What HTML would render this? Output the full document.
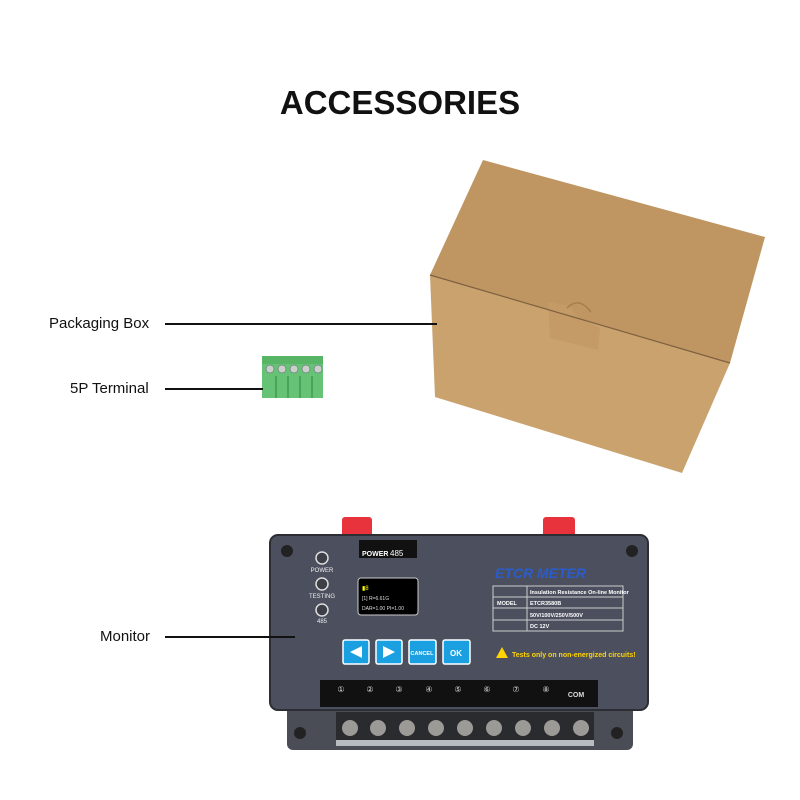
<!DOCTYPE html>
<html><head><style>
body{margin:0;width:800px;height:800px;background:#fff;position:relative;font-family:"Liberation Sans",sans-serif;overflow:hidden}
.a{position:absolute}
.lbl{position:absolute;font-size:15px;color:#111;white-space:nowrap}
.ln{position:absolute;height:2px;background:#111}
</style></head><body>
<div class="a" style="left:0;width:800px;top:84px;text-align:center;font-size:33px;font-weight:bold;color:#111">ACCESSORIES</div>

<svg class="a" style="left:0;top:0" width="800" height="800">
<polygon points="483,160 765,237 730,363 430,275" fill="#bf9662"/>
<polygon points="430,275 730,363 682,473 435,397" fill="#c9a26e"/>
<polygon points="548,302 570,306 578,318 600,328 598,350 550,338" fill="#c49b66"/>
<path d="M567,308 q12,-12 24,4" stroke="#a57e4e" fill="none" stroke-width="1.5"/>
<line x1="430" y1="275" x2="730" y2="363" stroke="#7f6040" stroke-width="1.2"/>
<rect x="262" y="356" width="61" height="42" fill="#66c274"/>
<rect x="262" y="356" width="61" height="8" fill="#58b566"/>
<g fill="#c8d0c8" stroke="#557" stroke-width="0.5">
<circle cx="270" cy="369" r="4"/><circle cx="282" cy="369" r="4"/><circle cx="294" cy="369" r="4"/><circle cx="306" cy="369" r="4"/><circle cx="318" cy="369" r="4"/></g>
<g stroke="#4aa55a" stroke-width="2"><line x1="276" y1="376" x2="276" y2="398"/><line x1="288" y1="376" x2="288" y2="398"/><line x1="300" y1="376" x2="300" y2="398"/><line x1="312" y1="376" x2="312" y2="398"/></g>

<rect x="342" y="517" width="30" height="20" fill="#e8323c" rx="3"/>
<rect x="543" y="517" width="32" height="20" fill="#e8323c" rx="3"/>
<rect x="287" y="706" width="346" height="44" rx="6" fill="#4a4d55"/>
<rect x="336" y="712" width="258" height="34" fill="#2a2b2e"/>
<g fill="#9c9a96"><circle cx="350" cy="728" r="8"/><circle cx="378" cy="728" r="8"/><circle cx="407" cy="728" r="8"/><circle cx="436" cy="728" r="8"/><circle cx="465" cy="728" r="8"/><circle cx="494" cy="728" r="8"/><circle cx="523" cy="728" r="8"/><circle cx="552" cy="728" r="8"/><circle cx="581" cy="728" r="8"/></g>
<rect x="336" y="740" width="258" height="6" fill="#b8bcc0"/>
<rect x="270" y="535" width="378" height="175" rx="8" fill="#4c505e" stroke="#2c2e34" stroke-width="2"/>
<g fill="#222"><circle cx="287" cy="551" r="6"/><circle cx="632" cy="551" r="6"/><circle cx="300" cy="733" r="6"/><circle cx="617" cy="733" r="6"/></g>
<rect x="359" y="540" width="58" height="18" fill="#111"/>
<text x="362" y="556" font-size="7" fill="#fff" font-weight="bold">POWER</text><text x="390" y="556" font-size="8" fill="#fff">485</text>
<g fill="#3c3f48" stroke="#ddd" stroke-width="1.5"><circle cx="322" cy="558" r="6"/><circle cx="322" cy="584" r="6"/><circle cx="322" cy="610" r="6"/></g>
<g font-size="6" fill="#eee" text-anchor="middle"><text x="322" y="572">POWER</text><text x="322" y="598">TESTING</text><text x="322" y="623">485</text></g>
<rect x="358" y="578" width="60" height="37" rx="3" fill="#000" stroke="#ccc"/>
<text x="362" y="590" font-size="6" fill="#ff0">▮8</text>
<text x="362" y="600" font-size="5" fill="#ddd">[1] R=6.61G</text><text x="362" y="610" font-size="5" fill="#ddd">DAR=1.00 PI=1.00</text>
<g fill="#1a9fe0" stroke="#fff" stroke-width="1.5"><rect x="343" y="640" width="26" height="24" rx="2"/><rect x="376" y="640" width="26" height="24" rx="2"/><rect x="409" y="640" width="27" height="24" rx="2"/><rect x="443" y="640" width="27" height="24" rx="2"/></g>
<polygon points="350,652 362,646 362,658" fill="#fff"/><polygon points="395,652 383,646 383,658" fill="#fff"/>
<text x="422" y="655" font-size="5.5" fill="#fff" text-anchor="middle" font-weight="bold">CANCEL</text>
<text x="456" y="656" font-size="8" fill="#fff" text-anchor="middle" font-weight="bold">OK</text>
<text x="495" y="578" font-size="14" font-weight="bold" font-style="italic" fill="#2a5ccc">ETCR METER</text>
<rect x="493" y="586" width="130" height="45" fill="none" stroke="#ccc"/>
<g stroke="#ccc"><line x1="493" y1="597" x2="623" y2="597"/><line x1="493" y1="608" x2="623" y2="608"/><line x1="493" y1="620" x2="623" y2="620"/><line x1="527" y1="586" x2="527" y2="631"/></g>
<g font-size="5.5" fill="#fff" font-weight="bold"><text x="530" y="594">Insulation Resistance On-line Monitor</text><text x="530" y="605">ETCR3580B</text><text x="530" y="617">50V/100V/250V/500V</text><text x="530" y="628">DC 12V</text>
<text x="497" y="605">MODEL</text></g>
<polygon points="502,647 496,658 508,658" fill="#ffd400"/>
<text x="512" y="657" font-size="7" fill="#ffd400" font-weight="bold">Tests only on non-energized circuits!</text>
<rect x="320" y="680" width="278" height="27" fill="#111"/>
<g font-size="8" fill="#ddd" text-anchor="middle"><text x="341" y="692">①</text><text x="370" y="692">②</text><text x="399" y="692">③</text><text x="429" y="692">④</text><text x="458" y="692">⑤</text><text x="487" y="692">⑥</text><text x="516" y="692">⑦</text><text x="546" y="692">⑧</text><text x="576" y="697" font-size="7" font-weight="bold">COM</text></g>
</svg>

<div class="lbl" style="left:49px;top:315px">Packaging Box</div><div class="ln" style="left:165px;top:323px;width:272px"></div>
<div class="lbl" style="left:70px;top:380px">5P Terminal</div><div class="ln" style="left:165px;top:388px;width:98px"></div>
<div class="lbl" style="left:100px;top:628px">Monitor</div><div class="ln" style="left:165px;top:636px;width:130px"></div>
</body></html>
